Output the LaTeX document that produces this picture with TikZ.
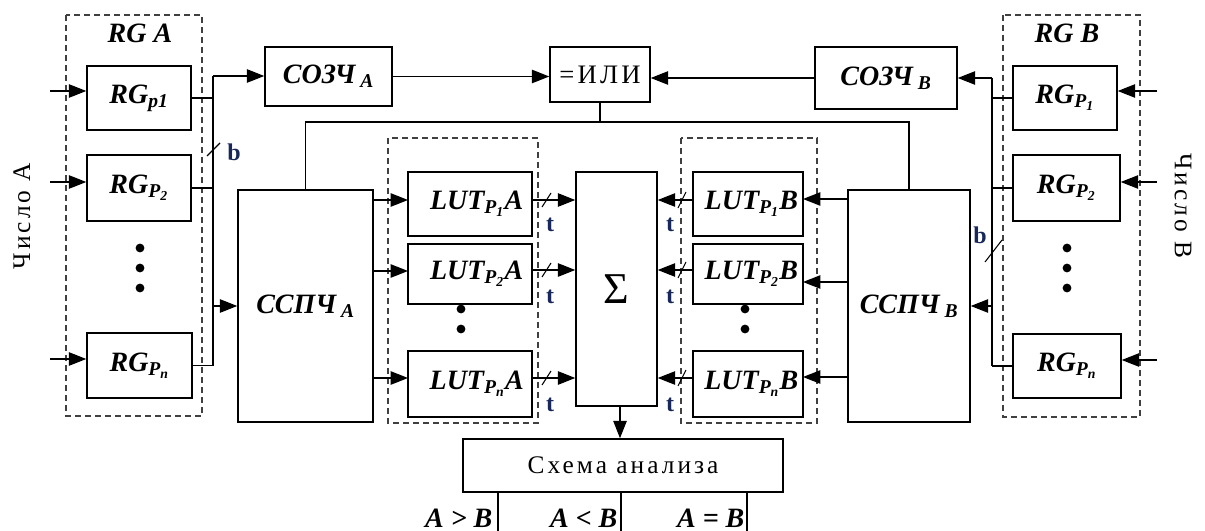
\documentclass[tikz,border=0pt]{standalone}
\usepackage{fontspec}
\setmainfont{Liberation Serif}
\newfontfamily\monof[LetterSpace=12]{Liberation Serif}
\usetikzlibrary{arrows.meta,calc}
\newcommand\bfitf{\fontsize{21}{23}\selectfont\bfseries\itshape}
\newcommand\mkbox[7][box]{\node[#1,minimum width={(#5-#3)*0.75pt},minimum height={(#6-#4)*0.75pt}] (#2) at ({(#3+#5)/2},{(#4+#6)/2}) {#7};}
\newcommand\sub[1]{\textsubscript{#1}}
\definecolor{lbl}{RGB}{25,40,90}
\begin{document}
\begin{tikzpicture}[x=0.75pt,y=-0.75pt,
  box/.style={draw,line width=1.1pt,fill=white,inner sep=0pt,font=\bfitf,align=center},
  mbox/.style={box,font=\monof\fontsize{20}{21}\selectfont},
  dbox/.style={draw=black!75,line width=1.1pt,dash pattern=on 4.5pt off 3pt},
  wire/.style={line width=1.1pt},
  arr/.style={wire,-{Triangle[length=13pt,width=10pt]}},
  slash/.style={line width=0.8pt},
  dot/.style={fill=black},
  lab/.style={font=\bfitf},
  bt/.style={font=\fontsize{18}{18}\selectfont\bfseries,text=lbl,inner sep=0pt},
  mono/.style={font=\monof\fontsize{19}{20}\selectfont}]
\useasboundingbox (0,0) rectangle (1205,531);

% dashed groups
\draw[dbox] (66,15) rectangle (202,416);
\draw[dbox] (1003,15) rectangle (1140,417);
\draw[dbox] (388,138) rectangle (538,423);
\draw[dbox] (681,138) rectangle (817,423);
\node[lab] (tA) at (140,33) {RG A};
\node[lab] (tB) at (1067,33) {RG B};

% dots
\foreach \yy in {248,268,288}{\fill[dot] (140,\yy) circle (3.3pt); \fill[dot] (1067,\yy) circle (3.3pt);}
\foreach \yy in {309,329}{\fill[dot] (461,\yy) circle (3.3pt); \fill[dot] (745,\yy) circle (3.3pt);}

% boxes
\mkbox{RGA1}{87}{66}{191}{130}{RG\sub{p1}}
\mkbox{RGA2}{87}{155}{191}{221}{RG\sub{P\sub{2}}}
\mkbox{RGA3}{87}{333}{192}{398}{RG\sub{P\sub{n}}}
\mkbox{RGB1}{1013}{66}{1117}{130}{RG\sub{P\sub{1}}}
\mkbox{RGB2}{1013}{155}{1120}{221}{RG\sub{P\sub{2}}}
\mkbox{RGB3}{1013}{334}{1121}{398}{RG\sub{P\sub{n}}}
\mkbox{COA}{265}{47}{392}{106}{СОЗЧ\,\sub{A}}
\mkbox[mbox]{ILI}{550}{47}{650}{102}{=ИЛИ}
\mkbox{COB}{815}{47}{957}{109}{СОЗЧ\,\sub{B}}
\mkbox{CA}{238}{190}{373}{422}{ССПЧ\,\sub{A}}
\mkbox{CB}{848}{190}{970}{422}{ССПЧ\,\sub{B}}
\mkbox{LA1}{408}{172}{532}{236}{\hspace{10pt}LUT\sub{P\sub{1}}A}
\mkbox{LA2}{408}{244}{532}{304}{\hspace{10pt}LUT\sub{P\sub{2}}A}
\mkbox{LA3}{408}{351}{532}{417}{\hspace{10pt}LUT\sub{P\sub{n}}A}
\mkbox{LB1}{693}{172}{803}{236}{\hspace{5pt}LUT\sub{P\sub{1}}B}
\mkbox{LB2}{693}{244}{803}{304}{\hspace{5pt}LUT\sub{P\sub{2}}B}
\mkbox{LB3}{693}{351}{803}{417}{\hspace{5pt}LUT\sub{P\sub{n}}B}
\mkbox[box]{S}{576}{172}{657}{406}{\normalfont\fontsize{33}{33}\selectfont Σ}
\mkbox[mbox]{AN}{463}{439}{783}{492}{\fontsize{19}{20}\selectfont Схема анализа}

% input labels
\node[mono,rotate=90] (numA) at (22,216) {Число А};
\node[mono,rotate=-90] (numB) at (1183,206) {Число В};

% inputs
\coordinate (inA1) at (50,91);  \coordinate (inA2) at (50,182);  \coordinate (inA3) at (50,359);
\coordinate (inB1) at (1157,91); \coordinate (inB2) at (1157,182); \coordinate (inB3) at (1157,360);
\draw[arr] (inA1) -- (inA1 -| RGA1.west);
\draw[arr] (inA2) -- (inA2 -| RGA2.west);
\draw[arr] (inA3) -- (inA3 -| RGA3.west);
\draw[arr] (inB1) -- (inB1 -| RGB1.east);
\draw[arr] (inB2) -- (inB2 -| RGB2.east);
\draw[arr] (inB3) -- (inB3 -| RGB3.east);

% bus A
\coordinate (bAt) at (213,76); \coordinate (bAb) at (213,366);
\draw[wire] (bAt) -- (bAb);
\draw[wire] (RGA1.east) -- (RGA1.east -| bAt);
\draw[wire] (RGA2.east) -- (RGA2.east -| bAt);
\draw[wire] (RGA3.east) -- (RGA3.east -| bAt);
\draw[arr] (bAt) -- (bAt -| COA.west);
\draw[arr] (CA.west -| bAt) -- (CA.west);
\coordinate (sA) at (213,150);
\draw[slash] ($(sA)+(-6,6)$) -- ($(sA)+(7,-7)$);
\node[bt] (bA) at (234,152) {b};

% bus B
\coordinate (bBt) at (992,78); \coordinate (bBb) at (992,366);
\draw[wire] (bBt) -- (bBb);
\draw[wire] (RGB1.west) -- (RGB1.west -| bBt);
\draw[wire] (RGB2.west) -- (RGB2.west -| bBt);
\draw[wire] (RGB3.west) -- (RGB3.west -| bBt);
\draw[arr] (bBt) -- (bBt -| COB.east);
\draw[arr] (CB.east -| bBt) -- (CB.east);
\coordinate (sB) at (993,251);
\draw[slash] ($(sB)+(-8,11)$) -- ($(sB)+(9,-11)$);
\node[bt] (bB) at (980,235) {b};

% CO3Ch -> ILI
\draw[arr] (COA.east) -- (COA.east -| ILI.west);
\draw[arr] (COB.west) -- (COB.west -| ILI.east);
\coordinate (j) at (600,122);
\draw[wire] (ILI.south) -- (j);
\draw[wire] (CA.north) |- (j);
\draw[wire] (CB.north) |- (j);

% SSPCh -> LUT
\foreach \n/\yy in {1/200,2/271,3/378}{
  \coordinate (pa\n) at (408,\yy);
  \draw[arr] (pa\n -| CA.east) -- (pa\n);
}
\foreach \n/\yy in {1/199,2/282,3/377}{
  \coordinate (pb\n) at (803,\yy);
  \draw[arr] (pb\n -| CB.west) -- (pb\n);
}
% LUT -> Sigma
\foreach \n/\yy/\ty in {1/200/225,2/270/297,3/378/405}{
  \coordinate (qa\n) at (532,\yy);
  \draw[arr] (qa\n) -- (qa\n -| S.west);
  \draw[slash] ($(qa\n)+(10,7)$) -- ($(qa\n)+(19,-7)$);
  \node[bt] (ta\n) at (550,\ty) {t};
  \coordinate (qb\n) at (693,\yy);
  \draw[arr] (qb\n) -- (qb\n -| S.east);
  \draw[slash] ($(qb\n)+(-15,8)$) -- ($(qb\n)+(-7,-8)$);
  \node[bt] (tb\n) at (670,\ty) {t};
}

% Sigma -> analysis
\draw[arr] (S.south -| 620,0) -- (AN.north -| 620,0);
\coordinate (o1) at (498,531); \coordinate (o2) at (621,531); \coordinate (o3) at (747,531);
\draw[wire] (AN.south -| o1) -- (o1);
\draw[wire] (AN.south -| o2) -- (o2);
\draw[wire] (AN.south -| o3) -- (o3);
\node[lab,anchor=east,inner sep=1pt] (g1) at (494,518) {A > B};
\node[lab,anchor=east,inner sep=1pt] (g2) at (619,518) {A < B};
\node[lab,anchor=east,inner sep=1pt] (g3) at (746,518) {A = B};
\end{tikzpicture}
\end{document}
